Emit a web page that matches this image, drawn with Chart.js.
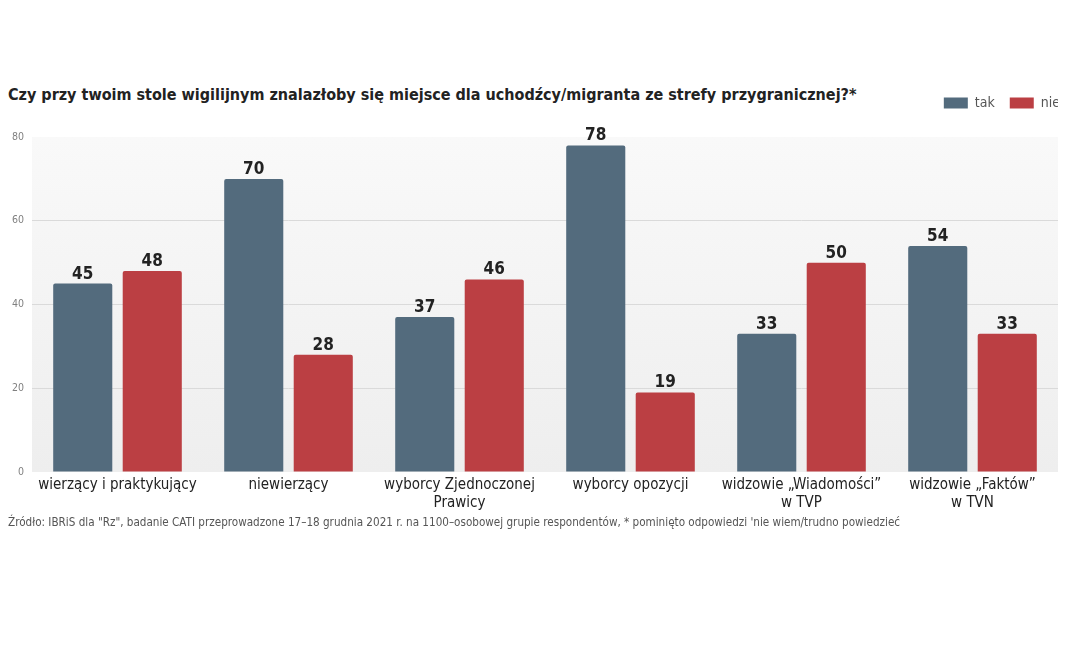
<!DOCTYPE html>
<html lang="pl">
<head>
<meta charset="utf-8">
<script src="https://cdn.jsdelivr.net/npm/chart.js@4.4.1/dist/chart.umd.min.js"></script>
<style>
  html, body { margin: 0; padding: 0; background: #fff; width: 1072px; height: 665px; overflow: hidden; }
  #title {
    position: absolute; left: 8px; top: 85px;
    font-family: "DejaVu Sans Condensed", "Liberation Sans Narrow", Roboto, sans-serif;
    font-weight: bold; font-size: 16px; color: #222; white-space: nowrap;
  }
  #wrap { position: absolute; left: 0; top: 81px; width: 1058px; height: 435px; overflow: hidden; }
  #chartBox { position: relative; width: 1075px; height: 435px; }
  #footer {
    position: absolute; left: 8px; top: 515px;
    font-family: "DejaVu Sans Condensed", "Liberation Sans Narrow", Roboto, sans-serif;
    font-size: 11.6px; color: #555; white-space: nowrap;
  }
</style>
</head>
<body>
<div id="title">Czy przy twoim stole wigilijnym znalazłoby się miejsce dla uchodźcy/migranta ze strefy przygranicznej?*</div>
<div id="wrap"><div id="chartBox"><canvas id="chart"></canvas></div></div>
<div id="footer">Źródło: IBRiS dla "Rz", badanie CATI przeprowadzone 17–18 grudnia 2021 r. na 1100–osobowej grupie respondentów, * pominięto odpowiedzi 'nie wiem/trudno powiedzieć</div>
<script>
const categories = [
  "wierzący i praktykujący",
  "niewierzący",
  ["wyborcy Zjednoczonej", "Prawicy"],
  "wyborcy opozycji",
  ["widzowie „Wiadomości”", "w TVP"],
  ["widzowie „Faktów”", "w TVN"]
];
const takValues = [45, 70, 37, 78, 33, 54];
const nieValues = [48, 28, 46, 19, 50, 33];
const yTicks = [0, 20, 40, 60, 80];

const narrow = "'DejaVu Sans Condensed', 'Liberation Sans Narrow', Roboto, sans-serif";

// grey gradient behind the plot area
const plotBackground = {
  id: "plotBackground",
  beforeDraw(chart) {
    const { ctx, chartArea: a } = chart;
    const g = ctx.createLinearGradient(0, a.top, 0, a.bottom);
    g.addColorStop(0, "#f9f9f9");
    g.addColorStop(1, "#eeeeee");
    ctx.save();
    ctx.fillStyle = g;
    ctx.fillRect(a.left, a.top, a.right - a.left, a.bottom - a.top);
    ctx.restore();
  }
};

// value labels above each bar
const barValues = {
  id: "barValues",
  afterDatasetsDraw(chart) {
    const { ctx } = chart;
    ctx.save();
    ctx.font = "bold 17px " + narrow;
    ctx.fillStyle = "#222";
    ctx.textAlign = "center";
    ctx.textBaseline = "alphabetic";
    chart.data.datasets.forEach((ds, i) => {
      chart.getDatasetMeta(i).data.forEach((bar, j) => {
        ctx.fillText(ds.data[j], bar.x, bar.y - 5);
      });
    });
    ctx.restore();
  }
};

new Chart(document.getElementById("chart"), {
  type: "bar",
  data: {
    labels: categories,
    datasets: [
      { label: "tak", data: takValues, backgroundColor: "#536b7d", borderRadius: 2 },
      { label: "nie", data: nieValues, backgroundColor: "#bb3f43", borderRadius: 2 }
    ]
  },
  plugins: [plotBackground, barValues],
  options: {
    responsive: true,
    maintainAspectRatio: false,
    animation: false,
    categoryPercentage: 0.813,
    barPercentage: 0.85,
    layout: { padding: 0 },
    plugins: {
      // empty title used only as a gap between the legend and the plot
      title: {
        display: true,
        text: " ",
        weight: 100,
        font: { size: 1, lineHeight: 1 },
        padding: { top: 16, bottom: 0 }
      },
      tooltip: { enabled: false },
      legend: {
        position: "top",
        align: "end",
        labels: {
          boxWidth: 24,
          boxHeight: 11,
          padding: 15,
          color: "#555",
          font: { family: narrow, size: 14 }
        }
      }
    },
    scales: {
      x: {
        grid: { display: false, drawTicks: false },
        border: { display: false },
        ticks: {
          color: "#222",
          padding: 4,
          maxRotation: 0,
          autoSkip: false,
          font: { family: narrow, size: 15 }
        }
      },
      y: {
        min: 0,
        max: 80,
        afterFit(s) { s.width = 32; },
        afterBuildTicks(s) { s.ticks = yTicks.map(v => ({ value: v })); },
        border: { display: false },
        grid: {
          drawTicks: false,
          color: c => (c.tick.value === 0 || c.tick.value === 80) ? "rgba(0,0,0,0)" : "#dadada"
        },
        ticks: {
          color: "#808080",
          padding: 8,
          font: { family: narrow, size: 10.5 }
        }
      },
      y2: {
        position: "right",
        afterFit(s) { s.width = 17; },
        grid: { display: false },
        border: { display: false },
        ticks: { display: false }
      }
    }
  }
});
</script>
</body>
</html>
